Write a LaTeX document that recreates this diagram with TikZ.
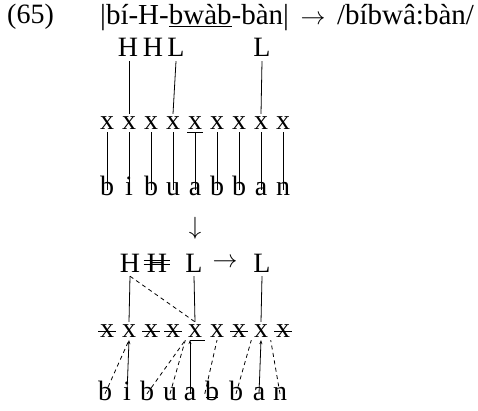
\documentclass[tikz,border=0pt]{standalone}
\usepackage{fontspec}
\setmainfont{Liberation Serif}
\usetikzlibrary{arrows.meta}

\begin{document}
\begin{tikzpicture}[x=1pt, y=-1pt,
    every node/.style={font=\fontsize{28}{32}\selectfont},
    tone/.style={inner sep=4pt, anchor=base},
    skel/.style={inner sep=2.5pt},
    seg/.style={inner sep=0pt, anchor=base, text height=0.6em, text depth=0pt},
    assoc/.style={line width=0.8pt},
    delink/.style={line width=0.8pt, dash pattern=on 4pt off 3.5pt},
    strike/.style={line width=0.8pt, shorten <=1pt, shorten >=1pt},
    up/.style={-{Stealth[length=4pt, width=3pt]}}]
    \useasboundingbox (0,0) rectangle (478,411);
    % heading
    \node[anchor=base west, inner sep=0pt] (num) at (7,24) {(65)};
    \node[anchor=base west, inner sep=0pt, font=\fontsize{29}{32}\selectfont] (form) at (100,25)
        {|bí-H-\underline{bwàb}-bàn|\hspace{0.4em}$\rightarrow$\hspace{0.4em}/bíbwâ:bàn/};
    % input
    \node[tone] (t11) at (128,57) {H};
    \node[tone] (t12) at (153,57) {H};
    \node[tone] (t13) at (176,57) {L};
    \node[tone] (t14) at (262,57) {L};
    \foreach \p [count=\i] in {107,129,151,173,195,217,239,261,283}
        \node[skel] (x1\i) at (\p,123) {x};
    \foreach \p/\s [count=\i] in {107/b,129/i,151/b,173/u,195/a,217/b,239/b,261/a,283/n}
        \node[seg] (s1\i) at (\p,196) {\s};
    \draw[assoc] (t11.south -| x12) -- (x12.north);
    \draw[assoc] (t13.south) -- (x14.north);
    \draw[assoc] (t14.south) -- (x18.north);
    \foreach \i in {1,2,3,4,6,7,8,9}
        \draw[assoc] (x1\i.south) -- (s1\i.north);
    \draw[assoc, shorten <=2pt, shorten >=2pt] (x15.south west) -- (x15.south east);
    \draw[assoc] (x15.south) -- (s15.north);
    \node (dn) at (195,228) {$\downarrow$};
    % output
    \node[tone] (t21) at (130,272) {H};
    \node[tone] (t22) at (157,272) {H};
    \node[tone] (t23) at (194,272) {L};
    \node (to) at (225,263) {$\rightarrow$};
    \node[tone] (t25) at (262,272) {L};
    \draw[strike] ([yshift=2pt]t22.center -| t22.west) -- ([yshift=2pt]t22.center -| t22.east);
    \draw[strike] ([yshift=-1.5pt]t22.center -| t22.west) -- ([yshift=-1.5pt]t22.center -| t22.east);
    \foreach \p [count=\i] in {107,129,151,173,195,217,239,261,283}
        \node[skel] (x2\i) at (\p,331) {x};
    \foreach \i in {1,3,4,7,9}
        \draw[strike] (x2\i.west) -- (x2\i.east);
    \foreach \p/\s [count=\i] in {105/b,127/i,147/b,170/u,190/a,212/b,236/b,259/a,280/n}
        \node[seg] (s2\i) at (\p,400) {\s};
    \draw[strike] (s26.west) -- (s26.east);
    \draw[assoc] (t21.south) -- (x22.north);
    \draw[delink] (t21.south) -- (x25.north);
    \draw[assoc] (t23.south) -- (x25.north);
    \draw[assoc] (t25.south) -- (x28.north);
    \draw[delink] (s21.north) -- (x22.south);
    \draw[assoc, up] (s22.north) -- (x22.south);
    \draw[delink] (s23.north) -- (x25.south west);
    \draw[delink] (s24.north) -- (x25.south west);
    \draw[assoc, up] (s25.north) -- (s25.north |- x25.south);
    \draw[assoc] (s25.north |- x25.south) -- (x25.south east);
    \draw[delink] (s26.north west) -- (x26.south);
    \draw[delink] (s27.north) -- (x28.south west);
    \draw[assoc, up] (s28.north) -- (x28.south);
    \draw[delink] (s29.north) -- (x28.south east);
\end{tikzpicture}
\end{document}
